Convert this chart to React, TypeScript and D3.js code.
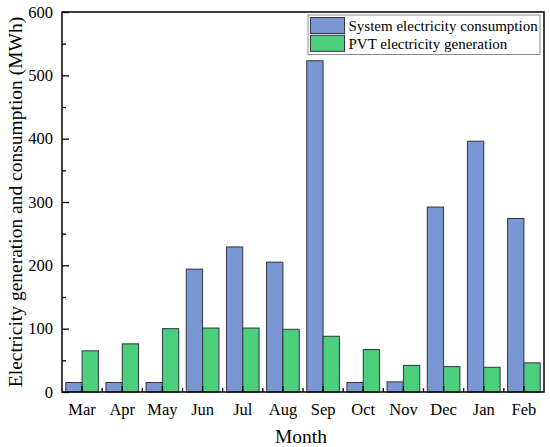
import { useRef, useEffect } from 'react';
import * as d3 from 'd3';

const months = ['Mar', 'Apr', 'May', 'Jun', 'Jul', 'Aug', 'Sep', 'Oct', 'Nov', 'Dec', 'Jan', 'Feb'];
const consumption = [15, 15, 15, 194, 229, 205, 523, 15, 16, 292, 396, 274];
const generation = [65, 76, 100, 101, 101, 99, 88, 67, 42, 40, 39, 46];
const seriesNames = ['System electricity consumption', 'PVT electricity generation'];
const seriesColors = ['#7b97d3', '#4ccf7c'];
const yTicks = [0, 100, 200, 300, 400, 500, 600];
const yMinorTicks = [50, 150, 250, 350, 450, 550];

const FONT = "'Liberation Serif', 'Times New Roman', serif";

export default function App() {
    const svgRef = useRef<SVGSVGElement>(null);

    useEffect(() => {
        document.body.style.margin = '0';
        if (!svgRef.current) return;

        const width = 550;
        const height = 447;
        const margin = { top: 12, right: 6, bottom: 55, left: 62 };
        const chartWidth = width - margin.left - margin.right;
        const chartHeight = height - margin.top - margin.bottom;

        const svg = d3.select(svgRef.current);
        svg.selectAll('*').remove();
        svg.attr('width', width)
            .attr('height', height)
            .attr('font-family', FONT);

        const g = svg.append('g')
            .attr('transform', `translate(${margin.left},${margin.top})`);

        // Scales
        const x = d3.scaleBand<string>()
            .domain(months)
            .range([0, chartWidth])
            .padding(0);

        const xSub = d3.scaleBand<number>()
            .domain([0, 1])
            .range([0, x.bandwidth()])
            .paddingInner(0)
            .paddingOuter(0.23);

        const y = d3.scaleLinear()
            .domain([0, 600])
            .range([chartHeight, 0]);

        // Bars
        const rows = months.map((m, i) => ({ month: m, values: [consumption[i], generation[i]] }));

        const groups = g.selectAll('.group')
            .data(rows)
            .enter()
            .append('g')
            .attr('transform', d => `translate(${x(d.month)},0)`);

        groups.selectAll('rect')
            .data(d => d.values.map((v, k) => ({ k, v })))
            .enter()
            .append('rect')
            .attr('x', d => xSub(d.k) as number)
            .attr('y', d => y(d.v))
            .attr('width', xSub.bandwidth())
            .attr('height', d => chartHeight - y(d.v))
            .attr('fill', d => seriesColors[d.k])
            .attr('stroke', '#2f3440')
            .attr('stroke-width', 1);

        // Frame
        g.append('rect')
            .attr('x', 0)
            .attr('y', 0)
            .attr('width', chartWidth)
            .attr('height', chartHeight)
            .attr('fill', 'none')
            .attr('stroke', '#000')
            .attr('stroke-width', 1.5);

        // Y axis (inward ticks)
        const yAxis = g.append('g')
            .call(d3.axisLeft(y).tickValues(yTicks).tickSize(0).tickPadding(9))
            .attr('font-family', FONT)
            .attr('font-size', 16.5);
        yAxis.select('.domain').remove();
        yAxis.selectAll('text').attr('fill', '#000');

        g.append('g')
            .call(d3.axisRight(y).tickValues(yTicks).tickSize(7).tickFormat(() => ''))
            .call(a => a.select('.domain').remove())
            .selectAll('.tick line')
            .attr('stroke', '#000')
            .attr('stroke-width', 1.3);

        g.append('g')
            .call(d3.axisRight(y).tickValues(yMinorTicks).tickSize(4).tickFormat(() => ''))
            .call(a => a.select('.domain').remove())
            .selectAll('.tick line')
            .attr('stroke', '#000')
            .attr('stroke-width', 1.3);

        // X axis
        const xAxis = g.append('g')
            .attr('transform', `translate(0,${chartHeight})`)
            .call(d3.axisBottom(x).tickSize(0).tickPadding(11))
            .attr('font-family', FONT)
            .attr('font-size', 16.5);
        xAxis.select('.domain').remove();
        xAxis.selectAll('text').attr('fill', '#000');

        g.append('g')
            .attr('transform', `translate(0,${chartHeight})`)
            .call(d3.axisTop(x).tickSize(6).tickFormat(() => ''))
            .call(a => a.select('.domain').remove())
            .selectAll('.tick line')
            .attr('stroke', '#000')
            .attr('stroke-width', 1.3);

        // Minor ticks between categories
        g.append('g')
            .attr('transform', `translate(0,${chartHeight})`)
            .selectAll('line')
            .data(months.slice(1))
            .enter()
            .append('line')
            .attr('x1', d => x(d) as number)
            .attr('x2', d => x(d) as number)
            .attr('y1', 0)
            .attr('y2', -4)
            .attr('stroke', '#000')
            .attr('stroke-width', 1.3);

        // Axis titles
        svg.append('text')
            .attr('x', margin.left + chartWidth / 2 - 2)
            .attr('y', 443)
            .attr('text-anchor', 'middle')
            .attr('font-size', 19.5)
            .text('Month');

        svg.append('text')
            .attr('transform', `translate(22,${margin.top + chartHeight / 2}) rotate(-90)`)
            .attr('text-anchor', 'middle')
            .attr('font-size', 19.5)
            .text('Electricity generation and consumption (MWh)');

        // Legend
        const legend = svg.append('g')
            .attr('transform', 'translate(308,15)');

        legend.append('rect')
            .attr('x', 0)
            .attr('y', 0)
            .attr('width', 232)
            .attr('height', 39.5)
            .attr('fill', '#fff')
            .attr('stroke', '#8a8a8a')
            .attr('stroke-width', 1);

        seriesNames.forEach((name, i) => {
            legend.append('rect')
                .attr('x', 2.5)
                .attr('y', 2.5 + i * 17.8)
                .attr('width', 34)
                .attr('height', 16)
                .attr('fill', seriesColors[i])
                .attr('stroke', '#2f3440')
                .attr('stroke-width', 1);

            legend.append('text')
                .attr('x', 40.5)
                .attr('y', 16 + i * 18.3)
                .attr('font-size', 15)
                .text(name);
        });
    }, []);

    return (
        <div>
            <svg ref={svgRef} style={{ display: 'block' }}></svg>
        </div>
    );
}
